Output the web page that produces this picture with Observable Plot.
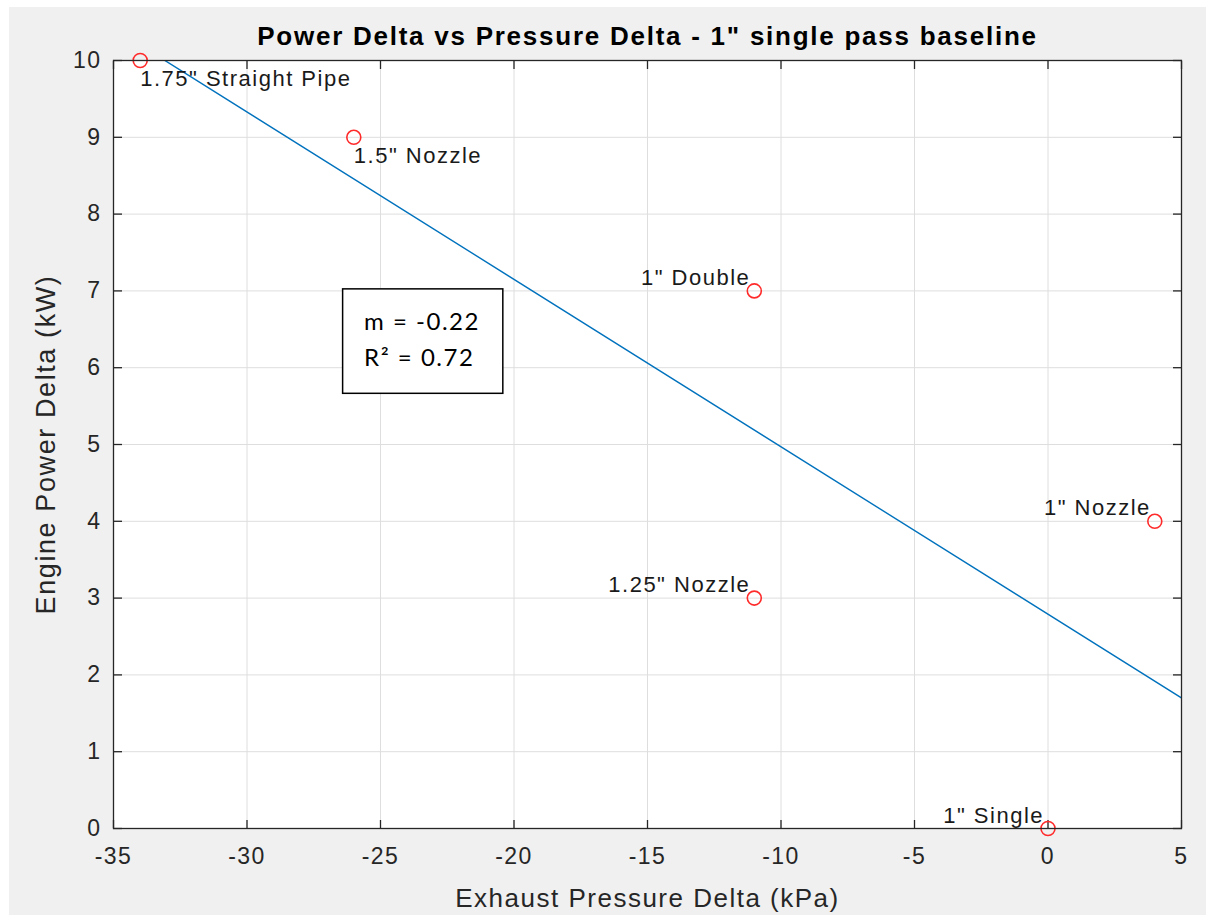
<!DOCTYPE html>
<html>
<head>
<meta charset="utf-8">
<script src="https://cdn.jsdelivr.net/npm/d3@7"></script>
<script src="https://cdn.jsdelivr.net/npm/@observablehq/plot@0.6"></script>
<style>
  html, body { margin: 0; padding: 0; background: #ffffff; }
  #fig { position: absolute; left: 9px; top: 7px; width: 1197px; height: 908px; background: #f0f0f0; }
  #fig svg text { letter-spacing: 1.5px; }
  #fig svg g[aria-label="x-axis label"] text { letter-spacing: 1.5px; }
  #fig svg g[aria-label="y-axis label"] text { letter-spacing: 1.6px; }
</style>
</head>
<body>
<div id="fig"></div>
<script>
// ---- data ----
const xValues = [-34, -26, -11, 4, -11, 0];           // Exhaust Pressure Delta (kPa)
const yValues = [10, 9, 7, 4, 3, 0];                  // Engine Power Delta (kW)
const pointLabels = ['1.75" Straight Pipe', '1.5" Nozzle', '1" Double', '1" Nozzle', '1.25" Nozzle', '1" Single'];
const labelSide = ["right", "right", "left", "left", "left", "left"];
const xTicks = [-35, -30, -25, -20, -15, -10, -5, 0, 5];
const yTicks = [0, 1, 2, 3, 4, 5, 6, 7, 8, 9, 10];
const fitSlope = -0.218;       // fitted line as drawn
const fitIntercept = 2.79;
const statsLines = ["m = -0.22", "R\u00B2 = 0.72"];
const titleText = 'Power Delta vs Pressure Delta - 1" single pass baseline';
const xLabel = "Exhaust Pressure Delta (kPa)";
const yLabel = "Engine Power Delta (kW)";

const points = xValues.map((x, i) => ({x, y: yValues[i], label: pointLabels[i], side: labelSide[i]}));
const xDomain = [xTicks[0], xTicks[xTicks.length - 1]];
const yDomain = [yTicks[0], yTicks[yTicks.length - 1]];
const fitX = xDomain;
// annotation box anchored in data coordinates
const box = {x1: -26.4, x2: -20.4, y1: 5.66, y2: 7.02};

const axisColor = "#262626";
const gridColor = "#dedede";
const blank = () => "";
const plainNum = d => `${d}`;

const chart = Plot.plot({
  width: 1197,
  height: 908,
  marginLeft: 104,
  marginRight: 25,
  marginTop: 53,
  marginBottom: 87,
  style: {background: "transparent", fontFamily: "'Liberation Sans', Arial, sans-serif", fontSize: "22px", color: axisColor},
  x: {domain: xDomain, ticks: xTicks},
  y: {domain: yDomain, ticks: yTicks},
  marks: [
    Plot.frame({fill: "white", stroke: null}),
    Plot.gridX({ticks: xTicks, stroke: gridColor, strokeOpacity: 1, strokeWidth: 1}),
    Plot.gridY({ticks: yTicks, stroke: gridColor, strokeOpacity: 1, strokeWidth: 1}),
    // tick labels and axis titles
    Plot.axisX({anchor: "bottom", ticks: xTicks, tickSize: 0, tickPadding: 19, tickFormat: plainNum, fill: axisColor,
      label: xLabel, labelAnchor: "center", labelArrow: "none", labelOffset: 78, fontSize: 23}),
    Plot.axisY({anchor: "left", ticks: yTicks, tickSize: 0, tickPadding: 12, tickFormat: plainNum, fill: axisColor,
      label: yLabel, labelAnchor: "center", labelArrow: "none", labelOffset: 78, fontSize: 23}),
    // inward ticks on all sides
    Plot.axisX({anchor: "bottom", ticks: xTicks, tickSize: 8, dy: -8, tickFormat: blank, label: null, stroke: axisColor, strokeWidth: 1.3}),
    Plot.axisX({anchor: "top", ticks: xTicks, tickSize: 8, dy: 8, tickFormat: blank, label: null, stroke: axisColor, strokeWidth: 1.3}),
    Plot.axisY({anchor: "left", ticks: yTicks, tickSize: 9, dx: 9, tickFormat: blank, label: null, stroke: axisColor, strokeWidth: 1.3}),
    Plot.axisY({anchor: "right", ticks: yTicks, tickSize: 9, dx: -9, tickFormat: blank, label: null, stroke: axisColor, strokeWidth: 1.3}),
    // fit line
    Plot.line(fitX, {x: d => d, y: d => fitSlope * d + fitIntercept, stroke: "#0072BD", strokeWidth: 1.4, clip: true}),
    // stats box
    Plot.rect([box], {x1: "x1", x2: "x2", y1: "y1", y2: "y2", fill: "white", stroke: "black", strokeWidth: 1.5}),
    Plot.text([statsLines[0]], {x: () => box.x1, y: () => box.y2, text: d => d, textAnchor: "start", lineAnchor: "middle",
      dx: 21, dy: 33, fontFamily: "Lato, 'Open Sans', sans-serif", fontSize: 24, fill: "black"}),
    Plot.text([statsLines[1]], {x: () => box.x1, y: () => box.y2, text: d => d, textAnchor: "start", lineAnchor: "middle",
      dx: 21, dy: 69, fontFamily: "Lato, 'Open Sans', sans-serif", fontSize: 24, fill: "black"}),
    // data points
    Plot.dot(points, {x: "x", y: "y", r: 7, stroke: "#ff2b2b", strokeWidth: 1.6, fill: "none"}),
    // point labels
    Plot.text(points.filter(d => d.side === "right"), {x: "x", y: "y", text: "label", textAnchor: "start", lineAnchor: "top",
      dx: 0, dy: 10, fontSize: 22, fill: "#1a1a1a"}),
    Plot.text(points.filter(d => d.side === "left"), {x: "x", y: "y", text: "label", textAnchor: "end", lineAnchor: "bottom",
      dx: -4, dy: -6, fontSize: 22, fill: "#1a1a1a"}),
    // axes box
    Plot.frame({stroke: axisColor, strokeWidth: 1.3}),
    // title
    Plot.text([titleText], {frameAnchor: "top", text: d => d, lineAnchor: "bottom", dy: -16, fontSize: 26, fontWeight: "bold", fill: "black"})
  ]
});
document.getElementById("fig").appendChild(chart);
d3.select(chart).selectAll("text").filter(function () { return this.textContent === titleText; }).style("letter-spacing", "1.75px");
d3.select(chart).selectAll("g[aria-label='x-axis label'] text").style("font-size", "26px");
d3.select(chart).selectAll("g[aria-label='y-axis label'] text").style("font-size", "27px");
</script>
</body>
</html>
